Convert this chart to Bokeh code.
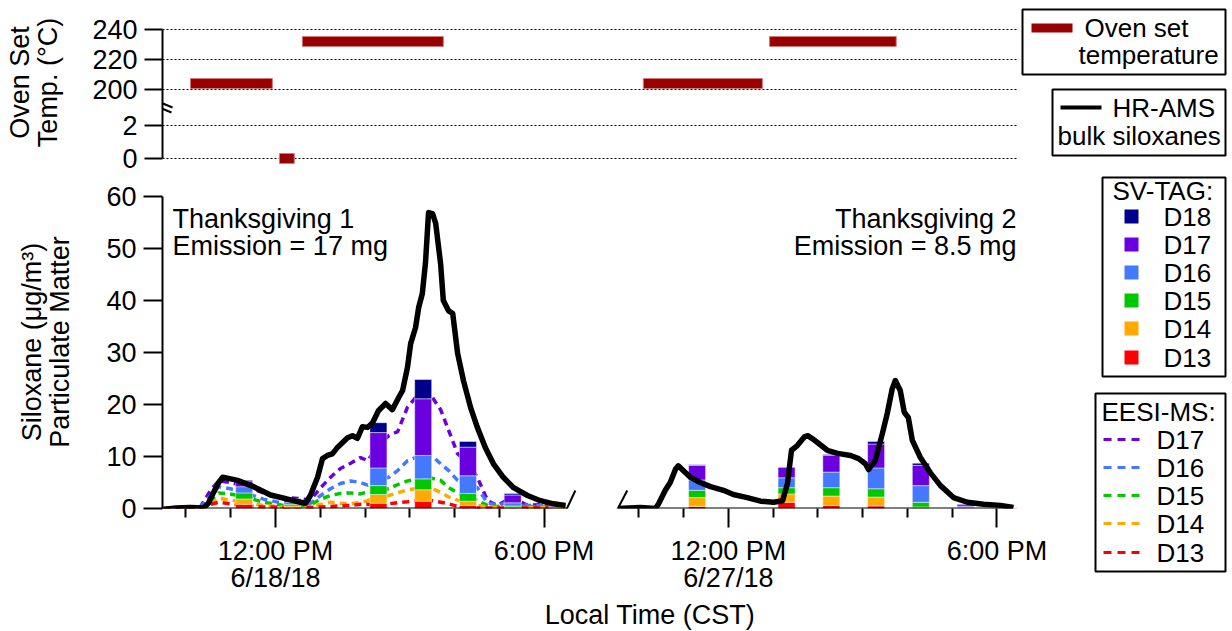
import numpy as np
from bokeh.plotting import figure
from bokeh.models import Range1d, FixedTicker, Arrow, ColumnDataSource
from bokeh.layouts import column, row
from bokeh.core.properties import value
from bokeh.embed import file_html
from bokeh.resources import INLINE

FONT = "Liberation Sans"
FS = "27px"
LFS = "26px"

# ---------------- data ----------------
DAY2_OFFSET = 10.12  # hours used to place the 6/27/18 panel right after the 6/18/18 panel

species = ["D13", "D14", "D15", "D16", "D17", "D18"]
colors = {"D18": "#00008c", "D17": "#6a00e0", "D16": "#4479ff",
          "D15": "#00c800", "D14": "#ffaa00", "D13": "#ff0000"}
OVEN_COLOR = "#990000"

# oven set temperature (deg C) with start / end local hour
oven_d1_start = [10.10, 12.09, 12.60]
oven_d1_end = [11.93, 12.42, 15.75]
oven_d1_temp = [204, 0, 232]
oven_d2_start = [10.10, 12.92]
oven_d2_end = [12.76, 15.75]
oven_d2_temp = [204, 232]

# HR-AMS bulk siloxanes (ug/m3)
ams_d1_time = [9.50, 9.77, 10.10, 10.39, 10.50, 10.61, 10.73, 10.82, 10.95, 11.15,
               11.51, 11.89, 12.27, 12.56, 12.67, 12.78, 12.94, 13.05, 13.16, 13.27,
               13.39, 13.61, 13.72, 13.83, 13.94, 14.06, 14.17, 14.30, 14.46, 14.61,
               14.75, 14.84, 14.95, 15.02, 15.13, 15.20, 15.28, 15.35, 15.42, 15.51,
               15.58, 15.69, 15.75, 15.87, 15.96, 16.07, 16.20, 16.36, 16.51, 16.69,
               16.87, 17.09, 17.32, 17.63, 17.92, 18.21, 18.48]
ams_d1_val = [-0.2, 0.1, 0.2, 0.1, 1.0, 3.0, 5.0, 6.0, 5.8, 5.4,
              4.2, 2.6, 1.8, 1.2, 1.0, 2.5, 6.0, 9.6, 10.2, 10.5,
              11.8, 13.6, 14.0, 13.5, 15.7, 15.6, 16.5, 18.8, 20.2, 19.0,
              21.3, 22.7, 27.2, 31.7, 34.8, 38.7, 41.3, 47.1, 56.9, 56.7,
              54.8, 47.0, 40.0, 38.0, 37.5, 29.8, 24.6, 19.4, 15.6, 11.7,
              8.6, 6.0, 4.0, 2.5, 1.5, 0.9, 0.6]
ams_d2_time = [9.54, 10.03, 10.37, 10.44, 10.59, 10.70, 10.82, 10.88, 10.99, 11.15,
               11.37, 11.60, 11.89, 12.11, 12.42, 12.72, 13.01, 13.21, 13.32, 13.41,
               13.54, 13.70, 13.77, 13.90, 14.21, 14.44, 14.73, 14.91, 15.06, 15.13,
               15.28, 15.44, 15.55, 15.66, 15.73, 15.84, 15.93, 16.02, 16.11, 16.29,
               16.51, 16.74, 17.03, 17.34, 17.70, 18.08, 18.37]
ams_d2_val = [0.0, 0.2, 0.0, 0.9, 3.5, 5.0, 7.6, 8.2, 7.3, 6.0,
              5.0, 4.2, 3.5, 2.7, 2.1, 1.4, 1.2, 1.5, 4.8, 11.2,
              12.1, 13.8, 14.0, 13.3, 11.2, 10.6, 10.2, 9.6, 8.6, 7.5,
              9.2, 14.4, 18.3, 23.0, 24.6, 22.7, 18.5, 17.5, 13.1, 9.8,
              6.9, 4.4, 2.1, 1.2, 0.8, 0.6, 0.2]

# SV-TAG stacked bars (ug/m3)
svtag_d1_time = [11.30, 12.38, 14.30, 15.30, 16.30, 17.30, 18.30]
svtag_d1 = {
    "D13": [0.80, 0.20, 1.0, 1.4, 0.6, 0.1, 0.05],
    "D14": [1.05, 0.30, 1.7, 2.2, 0.8, 0.2, 0.10],
    "D15": [1.15, 0.30, 1.7, 2.1, 1.5, 0.2, 0.10],
    "D16": [1.20, 0.40, 3.4, 4.5, 3.4, 0.6, 0.20],
    "D17": [1.10, 0.60, 6.8, 10.9, 5.5, 1.5, 0.50],
    "D18": [0.15, 0.10, 1.9, 3.7, 1.1, 0.3, 0.05],
}
svtag_d2_time = [11.30, 13.30, 14.30, 15.30, 16.30, 17.30, 18.30]
svtag_d2 = {
    "D13": [0.4, 1.2, 0.6, 0.5, 0.1, 0.05, 0.15],
    "D14": [1.7, 1.6, 1.8, 1.7, 0.2, 0.10, 0.15],
    "D15": [1.4, 1.2, 1.6, 1.6, 0.9, 0.10, 0.0],
    "D16": [2.0, 1.9, 3.0, 4.0, 3.2, 0.20, 0.0],
    "D17": [2.8, 2.0, 3.2, 4.6, 3.9, 0.40, 0.0],
    "D18": [0.1, 0.1, 0.2, 0.5, 0.4, 0.0, 0.0],
}

# EESI-MS (dashed, stacked positions, ug/m3), day 1
eesi_time = [9.50, 9.99, 10.32, 10.55, 10.73, 10.99, 11.33, 11.73, 12.18, 12.56,
             12.78, 13.01, 13.23, 13.45, 13.68, 13.90, 14.06, 14.28, 14.53, 14.73,
             14.95, 15.13, 15.31, 15.51, 15.69, 15.87, 16.07, 16.29, 16.51, 16.74,
             16.96, 17.14, 17.32, 17.63, 18.03, 18.47]
eesi_D17 = [0.0, 0.1, 0.3, 3.5, 5.3, 5.0, 4.3, 3.0, 2.1, 1.9,
            1.6, 4.0, 6.0, 7.7, 8.7, 9.8, 9.2, 12.0, 14.0, 14.8,
            19.5, 21.3, 21.5, 21.3, 19.0, 15.0, 10.5, 9.0, 6.0, 1.5,
            0.6, 1.5, 2.0, 0.6, 0.8, 0.7]
eesi_D16 = [0.0, 0.1, 0.2, 2.5, 4.2, 3.8, 3.0, 1.8, 1.0, 0.8,
            1.0, 2.5, 3.8, 4.8, 5.3, 5.0, 4.5, 5.5, 6.0, 7.3,
            9.2, 9.8, 10.0, 10.0, 8.6, 7.3, 5.4, 5.0, 4.0, 1.0,
            0.7, 1.0, 1.2, 0.6, 0.5, 0.4]
eesi_D15 = [0.0, 0.05, 0.1, 1.5, 3.0, 2.8, 2.2, 1.2, 0.6, 0.5,
            0.7, 1.8, 2.5, 2.9, 3.0, 2.8, 3.2, 3.6, 3.8, 4.6,
            5.3, 5.6, 5.8, 5.8, 5.4, 4.0, 3.0, 2.6, 1.5, 0.6,
            0.4, 0.5, 0.6, 0.4, 0.3, 0.3]
eesi_D14 = [0.0, 0.05, 0.1, 0.8, 2.0, 1.6, 1.2, 0.6, 0.3, 0.3,
            0.4, 0.8, 1.2, 1.0, 0.9, 1.2, 1.5, 2.2, 2.5, 3.0,
            3.6, 3.8, 3.8, 3.8, 3.1, 2.2, 1.6, 1.2, 0.6, 0.3,
            0.2, 0.2, 0.3, 0.2, 0.2, 0.2]
eesi_D13 = [0.0, 0.0, 0.1, 0.8, 1.2, 0.9, 0.5, 0.3, 0.2, 0.2,
            0.2, 0.3, 0.4, 0.5, 0.6, 0.8, 0.8, 0.8, 0.9, 1.1,
            1.3, 1.5, 1.5, 1.5, 1.2, 0.9, 0.4, 0.2, 0.1, 0.1,
            0.1, 0.1, 0.1, 0.1, 0.1, 0.1]

# axis tick values / labels
temp_tick_values = [0, 2, 200, 220, 240]
conc_ticks = [0, 10, 20, 30, 40, 50, 60]
major_hours = [12, 18]
minor_hours = [10, 11, 13, 14, 15, 16, 17]
day_labels = ["6/18/18", "6/27/18"]

# ---------------- layout constants (pixels) ----------------
FRAME_W = 855
LEFT_B = 162
X_START, X_END = 9.475, 28.58
TOP_FRAME_H = 164              # top frame: page y 0..164 (y = -6 .. 158)
TOP_H = 175                    # height of the top row
BOT_FRAME_H = 508 - TOP_H      # bottom frame: page y TOP_H .. 508
BOT_Y_TOP = BOT_FRAME_H / 5.2  # 5.2 px per ug/m3
BOT_H = 631 - TOP_H
TOP_RIGHT_B = 3
TOP_LEG_W = 207
BOT_RIGHT_B = 75
TOP_LEG_X0 = LEFT_B + FRAME_W + TOP_RIGHT_B     # page x of top legend canvas
BOT_LEG_X0 = LEFT_B + FRAME_W + BOT_RIGHT_B     # page x of bottom legend canvas
BOT_LEG_W = TOP_LEG_X0 + TOP_LEG_W - BOT_LEG_X0


def temp_to_axis(v):
    # broken axis: 0-2 C on lower part, 200-240 C on upper part
    return v * 16.5 if v <= 2 else 69 + (v - 200) * 1.5


x_range = Range1d(X_START, X_END)


def style_axis(ax):
    ax.axis_line_width = 2
    ax.axis_line_color = "black"
    ax.major_tick_line_width = 2
    ax.minor_tick_line_width = 2
    ax.major_tick_in = 0
    ax.minor_tick_in = 0
    ax.major_label_text_font = FONT
    ax.major_label_text_font_size = FS
    ax.major_label_text_color = "black"
    ax.axis_label_text_font = FONT
    ax.axis_label_text_font_size = FS
    ax.axis_label_text_font_style = "normal"
    ax.axis_label_text_color = "black"
    ax.axis_label_text_line_height = 0.95


# ---------------- top panel: oven temperature ----------------
top_ticks = [temp_to_axis(v) for v in temp_tick_values]
top = figure(title=None, x_range=x_range, y_range=Range1d(-6, TOP_FRAME_H - 6),
             frame_width=FRAME_W, frame_height=TOP_FRAME_H,
             min_border_left=LEFT_B, min_border_right=TOP_RIGHT_B,
             min_border_top=0, min_border_bottom=TOP_H - TOP_FRAME_H,
             x_axis_location=None, toolbar_location=None, output_backend="svg")
top.outline_line_color = None
top.xgrid.visible = False
top.yaxis.ticker = FixedTicker(ticks=top_ticks)
top.yaxis.bounds = (top_ticks[0], top_ticks[-1])
top.ygrid.ticker = FixedTicker(ticks=top_ticks)
top.ygrid.grid_line_color = "black"
top.ygrid.grid_line_dash = "2 2"
top.ygrid.grid_line_width = 1
top.yaxis.major_label_overrides = {t: str(v) for t, v in zip(top_ticks, temp_tick_values)}
style_axis(top.yaxis[0])
top.yaxis.major_tick_out = 18
top.yaxis.minor_tick_out = 0
top.yaxis.major_label_standoff = 7
top.yaxis.axis_label = "Oven Set\nTemp. (°C)"
top.yaxis.axis_label_standoff = 26

oven_start = oven_d1_start + [s + DAY2_OFFSET for s in oven_d2_start]
oven_end = oven_d1_end + [e + DAY2_OFFSET for e in oven_d2_end]
oven_temp = oven_d1_temp + oven_d2_temp
top.hbar(y=[temp_to_axis(v) for v in oven_temp], left=oven_start, right=oven_end,
         height=10, fill_color=OVEN_COLOR, line_color="#d07a7a", line_width=1)

# axis-break marks on the temperature axis
for (xs, ys, xe, ye) in [(9.318, 58, 9.698, 51), (9.296, 53, 9.676, 46)]:
    top.add_layout(Arrow(end=None, x_start=xs, y_start=ys, x_end=xe, y_end=ye,
                         line_width=2, line_color="black"))

# ---------------- bottom panel: siloxanes ----------------
bot = figure(title=None, x_range=x_range, y_range=Range1d(0, BOT_Y_TOP),
             frame_width=FRAME_W, frame_height=BOT_FRAME_H,
             min_border_left=LEFT_B, min_border_right=BOT_RIGHT_B,
             min_border_top=0, min_border_bottom=BOT_H - BOT_FRAME_H,
             toolbar_location=None, output_backend="svg")
bot.outline_line_color = None
bot.grid.visible = False

for sp, vals in [("D17", eesi_D17), ("D16", eesi_D16), ("D15", eesi_D15),
                 ("D14", eesi_D14), ("D13", eesi_D13)]:
    bot.line(eesi_time, vals, line_color=colors[sp], line_width=3.5, line_dash="7 5")

bar_src = {"t": svtag_d1_time + [t + DAY2_OFFSET for t in svtag_d2_time]}
for sp in species:
    bar_src[sp] = svtag_d1[sp] + svtag_d2[sp]
bot.vbar_stack(species, x="t", width=0.38, source=ColumnDataSource(bar_src),
               fill_color=[colors[s] for s in species],
               line_color="white", line_alpha=0.45, line_width=1)

bot.line(ams_d1_time, ams_d1_val, line_color="black", line_width=5.5, line_join="round")
bot.line([t + DAY2_OFFSET for t in ams_d2_time], ams_d2_val, line_color="black",
         line_width=5.5, line_join="round")

style_axis(bot.yaxis[0])
bot.yaxis.ticker = FixedTicker(ticks=conc_ticks)
bot.yaxis.bounds = (conc_ticks[0], conc_ticks[-1])
bot.yaxis.major_tick_out = 19
bot.yaxis.minor_tick_out = 0
bot.yaxis.major_label_standoff = 7
bot.yaxis.axis_label = "Siloxane (μg/m³)\nParticulate Matter"
bot.yaxis.axis_label_standoff = 28

xmaj = [h for h in major_hours] + [h + DAY2_OFFSET for h in major_hours]
xmin = [h for h in minor_hours] + [h + DAY2_OFFSET for h in minor_hours]
style_axis(bot.xaxis[0])
bot.xaxis.ticker = FixedTicker(ticks=xmaj, minor_ticks=xmin)
bot.xaxis.axis_line_color = None
bot.xaxis.major_tick_out = 19
bot.xaxis.minor_tick_out = 9
bot.xaxis.major_label_standoff = 8
bot.xaxis.major_label_text_line_height = 0.9
bot.xaxis.major_label_overrides = {
    xmaj[0]: "12:00 PM\n" + day_labels[0], xmaj[1]: "6:00 PM",
    xmaj[2]: "12:00 PM\n" + day_labels[1], xmaj[3]: "6:00 PM"}
# label centred a little right of the frame centre, as in the original
bot.xaxis.axis_label = "\u00a0" * 16 + "Local Time (CST)"
bot.xaxis.axis_label_standoff = 4

for (xs, ys, xe, ye) in [(X_START, 0, 18.53, 0), (19.67, 0, 28.47, 0),
                         (18.37, -2.63, 18.70, 3.46), (19.49, -2.63, 19.86, 3.46)]:
    bot.add_layout(Arrow(end=None, x_start=xs, y_start=ys, x_end=xe, y_end=ye,
                         line_width=2, line_color="black"))

# in-panel annotations
bot.text(x=[9.70, 9.70], y=[55.6, 50.4], text=["Thanksgiving 1", "Emission = 17 mg"],
         text_font=value(FONT), text_font_size=FS, text_baseline="alphabetic",
         text_align="left", text_color="black")
bot.text(x=[X_END - 0.02, X_END - 0.02], y=[55.6, 50.4],
         text=["Thanksgiving 2", "Emission = 8.5 mg"],
         text_font=value(FONT), text_font_size=FS, text_baseline="alphabetic",
         text_align="right", text_color="black")


# ---------------- legend canvases ----------------
def legend_fig(w, h, bottom_border=0):
    f = figure(title=None, x_range=Range1d(0, w), y_range=Range1d(h, 0),
               frame_width=w, frame_height=h,
               min_border=0, min_border_left=0, min_border_right=0,
               min_border_top=0, min_border_bottom=bottom_border,
               x_axis_location=None, y_axis_location=None,
               toolbar_location=None, output_backend="svg")
    f.outline_line_color = None
    f.grid.visible = False
    return f


def ltext(f, x, y, s, size=LFS):
    f.text(x=[x], y=[y], text=[s], text_font=value(FONT), text_font_size=size,
           text_baseline="middle", text_align="left", text_color="black")


def lbox(f, L, R, T, B):
    f.quad(left=[L], right=[R], top=[T], bottom=[B], fill_color="white",
           line_color="black", line_width=2)


tl = legend_fig(TOP_LEG_W, TOP_FRAME_H, bottom_border=TOP_H - TOP_FRAME_H)
ox = TOP_LEG_X0
lbox(tl, 1022 - ox, 1225 - ox, 9, 74)
tl.quad(left=[1031 - ox], right=[1072 - ox], top=[23], bottom=[32],
        fill_color=OVEN_COLOR, line_color=None)
ltext(tl, 1084 - ox, 27, "Oven set")
ltext(tl, 1078 - ox, 54, "temperature")
lbox(tl, 1052 - ox, 1225 - ox, 89, 155)
tl.segment(x0=[1060 - ox], y0=[107], x1=[1101 - ox], y1=[107], line_color="black",
           line_width=4)
ltext(tl, 1112 - ox, 107, "HR-AMS")
ltext(tl, 1057 - ox, 135, "bulk siloxanes")

bl = legend_fig(BOT_LEG_W, BOT_H)
bx, by = BOT_LEG_X0, TOP_H
lbox(bl, 1102 - bx, 1225 - bx, 177 - by, 376 - by)
ltext(bl, 1112 - bx, 190 - by, "SV-TAG:")
sv_rows = [("D18", 216), ("D17", 244), ("D16", 272), ("D15", 300), ("D14", 328), ("D13", 357)]
for sp, yy in sv_rows:
    bl.scatter(x=[1131 - bx], y=[yy - by], marker="square", size=14,
               fill_color=colors[sp], line_color=None)
    ltext(bl, 1163 - bx, yy - by, sp)

lbox(bl, 1095 - bx, 1225 - bx, 393 - by, 571 - by)
ltext(bl, 1101 - bx, 411 - by, "EESI-MS:")
es_rows = [("D17", 439), ("D16", 467), ("D15", 495), ("D14", 523), ("D13", 552)]
for sp, yy in es_rows:
    bl.segment(x0=[1103 - bx], y0=[yy - by], x1=[1139 - bx], y1=[yy - by],
               line_color=colors[sp], line_width=3, line_dash="8 6")
    ltext(bl, 1156 - bx, yy - by, sp)

layout = column(row(top, tl, spacing=0), row(bot, bl, spacing=0), spacing=0)
open("out.html", "w").write(file_html(layout, INLINE))
